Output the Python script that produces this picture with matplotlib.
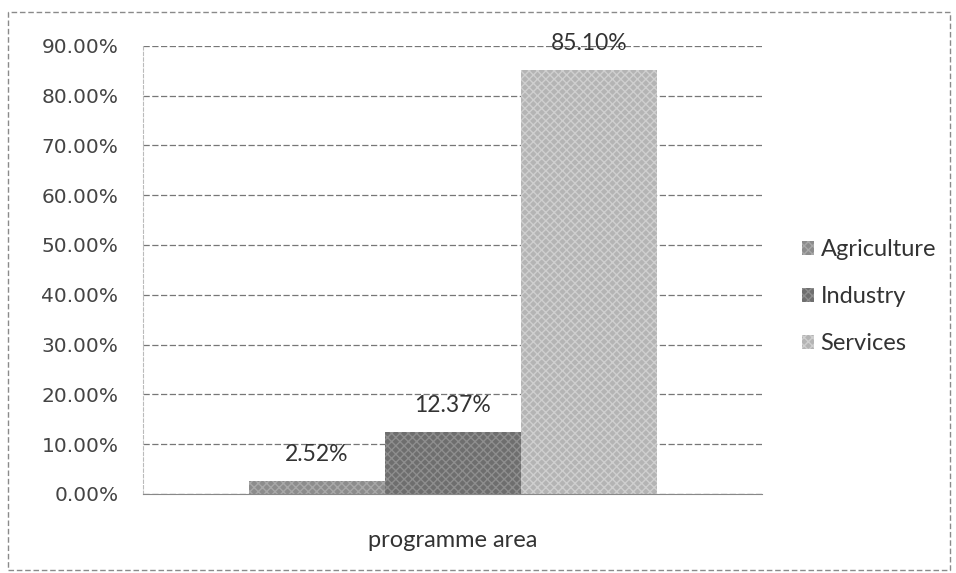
import matplotlib.pyplot as plt
from matplotlib.patches import Rectangle
from matplotlib.ticker import FuncFormatter

# data
sectors = ['Agriculture', 'Industry', 'Services']
shares = [2.52, 12.37, 85.10]
colors = ['#8c8c8c', '#6e6e6e', '#b4b4b4']
edge_colors = ['#a8a8a8', '#8e8e8e', '#cfcfcf']
category = 'programme area'
yticks = [0, 10, 20, 30, 40, 50, 60, 70, 80, 90]

fig = plt.figure(figsize=(9.56, 5.73), dpi=100)
ax = fig.add_axes([0.150, 0.138, 0.647, 0.782])

# outer dashed frame like the scanned chart border
fig.patches.append(Rectangle((8 / 956, 0.005), 942 / 956, 1 - 12 / 573 - 0.005,
                             transform=fig.transFigure, fill=False,
                             edgecolor='#8a8a8a', linestyle=(0, (4, 2)), linewidth=1))

w = 0.22
for i, (name, v) in enumerate(zip(sectors, shares)):
    x = (i - 1) * w
    ax.bar(x, v, width=w, color=colors[i], edgecolor=edge_colors[i],
           hatch='xxxx', linewidth=0, label=name)
    ax.annotate(f'{v:.2f}%', (x, v), xytext=(0, 12), textcoords='offset points',
                ha='center', va='bottom', fontsize=16.5, family='Lato', color='#333333')

ax.set_xlim(-0.5, 0.5)
ax.set_ylim(0, 90)
ax.set_yticks(yticks)
ax.yaxis.set_major_formatter(FuncFormatter(lambda v, p: f'{v:.2f}%'))
ax.set_xticks([0])
ax.set_xticklabels([category], fontsize=17, family='Lato', color='#333333')
ax.tick_params(axis='x', length=0, pad=26)
ax.tick_params(axis='y', length=0, pad=18, labelsize=14.5, labelcolor='#444444')
for t in ax.get_yticklabels():
    t.set_family('DejaVu Sans')

ax.grid(axis='y', color='#777777', linestyle=(0, (5, 2)), linewidth=0.9)
ax.set_axisbelow(True)
for s in ['top', 'right']:
    ax.spines[s].set_visible(False)
ax.spines['left'].set_color('#bbbbbb')
ax.spines['left'].set_linestyle((0, (3, 2)))
ax.spines['bottom'].set_color('#888888')

leg = ax.legend(loc='center left', bbox_to_anchor=(1.03, 0.44), frameon=False,
                prop={'family': 'Lato', 'size': 17}, handlelength=0.5, handleheight=0.5,
                handletextpad=0.3, labelspacing=1.1)
for t in leg.get_texts():
    t.set_color('#333333')

fig.savefig('out.png', dpi=100)
